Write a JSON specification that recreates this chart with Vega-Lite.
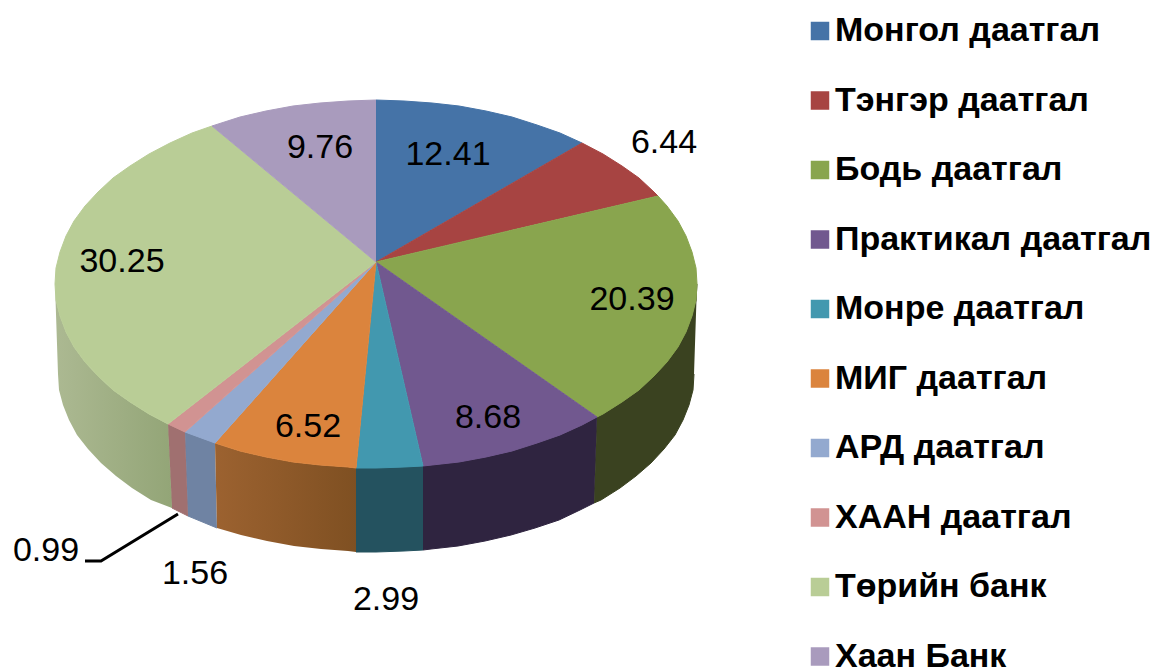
{"$schema":"https://vega.github.io/schema/vega-lite/v6.json","width":1158,"height":671,"padding":0,"autosize":{"type":"none"},"background":"white","view":{"stroke":null},
"datasets":{
"tops":[
{"slice":"Монгол даатгал","step":0,"x":0,"y":22},{"slice":"Монгол даатгал","step":1,"x":0,"y":184},{"slice":"Монгол даатгал","step":2,"x":28,"y":183},{"slice":"Монгол даатгал","step":3,"x":56,"y":181},{"slice":"Монгол даатгал","step":4,"x":83,"y":178},{"slice":"Монгол даатгал","step":5,"x":110,"y":173},{"slice":"Монгол даатгал","step":6,"x":136,"y":167},{"slice":"Монгол даатгал","step":7,"x":161,"y":159},{"slice":"Монгол даатгал","step":8,"x":184,"y":151},{"slice":"Монгол даатгал","step":9,"x":206,"y":141},
{"slice":"Тэнгэр даатгал","step":0,"x":0,"y":22},{"slice":"Тэнгэр даатгал","step":1,"x":206,"y":141},{"slice":"Тэнгэр даатгал","step":2,"x":227,"y":130},{"slice":"Тэнгэр даатгал","step":3,"x":246,"y":118},{"slice":"Тэнгэр даатгал","step":4,"x":263,"y":106},{"slice":"Тэнгэр даатгал","step":5,"x":278,"y":92},{"slice":"Тэнгэр даатгал","step":6,"x":282,"y":88},
{"slice":"Бодь даатгал","step":0,"x":0,"y":22},{"slice":"Бодь даатгал","step":1,"x":282,"y":88},{"slice":"Бодь даатгал","step":2,"x":291,"y":78},{"slice":"Бодь даатгал","step":3,"x":302,"y":63},{"slice":"Бодь даатгал","step":4,"x":310,"y":48},{"slice":"Бодь даатгал","step":5,"x":316,"y":32},{"slice":"Бодь даатгал","step":6,"x":320,"y":16},{"slice":"Бодь даатгал","step":7,"x":321,"y":0},{"slice":"Бодь даатгал","step":8,"x":320,"y":-16},{"slice":"Бодь даатгал","step":9,"x":316,"y":-32},{"slice":"Бодь даатгал","step":10,"x":310,"y":-48},{"slice":"Бодь даатгал","step":11,"x":302,"y":-63},{"slice":"Бодь даатгал","step":12,"x":291,"y":-78},{"slice":"Бодь даатгал","step":13,"x":278,"y":-92},{"slice":"Бодь даатгал","step":14,"x":263,"y":-106},{"slice":"Бодь даатгал","step":15,"x":246,"y":-118},{"slice":"Бодь даатгал","step":16,"x":227,"y":-130},{"slice":"Бодь даатгал","step":17,"x":221,"y":-133},
{"slice":"Практикал даатгал","step":0,"x":0,"y":22},{"slice":"Практикал даатгал","step":1,"x":221,"y":-133},{"slice":"Практикал даатгал","step":2,"x":206,"y":-141},{"slice":"Практикал даатгал","step":3,"x":184,"y":-151},{"slice":"Практикал даатгал","step":4,"x":161,"y":-159},{"slice":"Практикал даатгал","step":5,"x":136,"y":-167},{"slice":"Практикал даатгал","step":6,"x":110,"y":-173},{"slice":"Практикал даатгал","step":7,"x":83,"y":-178},{"slice":"Практикал даатгал","step":8,"x":56,"y":-181},{"slice":"Практикал даатгал","step":9,"x":47,"y":-182},
{"slice":"Монре даатгал","step":0,"x":0,"y":22},{"slice":"Монре даатгал","step":1,"x":47,"y":-182},{"slice":"Монре даатгал","step":2,"x":28,"y":-183},{"slice":"Монре даатгал","step":3,"x":0,"y":-184},{"slice":"Монре даатгал","step":4,"x":-20,"y":-184},
{"slice":"МИГ даатгал","step":0,"x":0,"y":22},{"slice":"МИГ даатгал","step":1,"x":-20,"y":-184},{"slice":"МИГ даатгал","step":2,"x":-28,"y":-183},{"slice":"МИГ даатгал","step":3,"x":-56,"y":-181},{"slice":"МИГ даатгал","step":4,"x":-83,"y":-178},{"slice":"МИГ даатгал","step":5,"x":-110,"y":-173},{"slice":"МИГ даатгал","step":6,"x":-136,"y":-167},{"slice":"МИГ даатгал","step":7,"x":-161,"y":-159},
{"slice":"АРД даатгал","step":0,"x":0,"y":22},{"slice":"АРД даатгал","step":1,"x":-161,"y":-159},{"slice":"АРД даатгал","step":2,"x":-191,"y":-148},
{"slice":"ХААН даатгал","step":0,"x":0,"y":22},{"slice":"ХААН даатгал","step":1,"x":-191,"y":-148},{"slice":"ХААН даатгал","step":2,"x":-208,"y":-140},
{"slice":"Төрийн банк","step":0,"x":0,"y":22},{"slice":"Төрийн банк","step":1,"x":-208,"y":-140},{"slice":"Төрийн банк","step":2,"x":-227,"y":-130},{"slice":"Төрийн банк","step":3,"x":-246,"y":-118},{"slice":"Төрийн банк","step":4,"x":-263,"y":-106},{"slice":"Төрийн банк","step":5,"x":-278,"y":-92},{"slice":"Төрийн банк","step":6,"x":-291,"y":-78},{"slice":"Төрийн банк","step":7,"x":-302,"y":-63},{"slice":"Төрийн банк","step":8,"x":-310,"y":-48},{"slice":"Төрийн банк","step":9,"x":-316,"y":-32},{"slice":"Төрийн банк","step":10,"x":-320,"y":-16},{"slice":"Төрийн банк","step":11,"x":-321,"y":0},{"slice":"Төрийн банк","step":12,"x":-320,"y":16},{"slice":"Төрийн банк","step":13,"x":-316,"y":32},{"slice":"Төрийн банк","step":14,"x":-310,"y":48},{"slice":"Төрийн банк","step":15,"x":-302,"y":63},{"slice":"Төрийн банк","step":16,"x":-291,"y":78},{"slice":"Төрийн банк","step":17,"x":-278,"y":92},{"slice":"Төрийн банк","step":18,"x":-263,"y":106},{"slice":"Төрийн банк","step":19,"x":-246,"y":118},{"slice":"Төрийн банк","step":20,"x":-227,"y":130},{"slice":"Төрийн банк","step":21,"x":-206,"y":141},{"slice":"Төрийн банк","step":22,"x":-184,"y":151},{"slice":"Төрийн банк","step":23,"x":-164,"y":158},
{"slice":"Хаан Банк","step":0,"x":0,"y":22},{"slice":"Хаан Банк","step":1,"x":-164,"y":158},{"slice":"Хаан Банк","step":2,"x":-136,"y":167},{"slice":"Хаан Банк","step":3,"x":-110,"y":173},{"slice":"Хаан Банк","step":4,"x":-83,"y":178},{"slice":"Хаан Банк","step":5,"x":-56,"y":181},{"slice":"Хаан Банк","step":6,"x":-28,"y":183},{"slice":"Хаан Банк","step":7,"x":0,"y":184}
],
"sides":[
{"slice":"Бодь даатгал","step":0,"x":321,"y":0},{"slice":"Бодь даатгал","step":1,"x":320,"y":-16},{"slice":"Бодь даатгал","step":2,"x":316,"y":-32},{"slice":"Бодь даатгал","step":3,"x":310,"y":-48},{"slice":"Бодь даатгал","step":4,"x":302,"y":-63},{"slice":"Бодь даатгал","step":5,"x":291,"y":-78},{"slice":"Бодь даатгал","step":6,"x":278,"y":-92},{"slice":"Бодь даатгал","step":7,"x":263,"y":-106},{"slice":"Бодь даатгал","step":8,"x":246,"y":-118},{"slice":"Бодь даатгал","step":9,"x":227,"y":-130},{"slice":"Бодь даатгал","step":10,"x":221,"y":-133},{"slice":"Бодь даатгал","step":11,"x":218,"y":-219},{"slice":"Бодь даатгал","step":12,"x":225,"y":-216},{"slice":"Бодь даатгал","step":13,"x":244,"y":-204},{"slice":"Бодь даатгал","step":14,"x":260,"y":-192},{"slice":"Бодь даатгал","step":15,"x":275,"y":-179},{"slice":"Бодь даатгал","step":16,"x":288,"y":-165},{"slice":"Бодь даатгал","step":17,"x":299,"y":-151},{"slice":"Бодь даатгал","step":18,"x":307,"y":-136},{"slice":"Бодь даатгал","step":19,"x":313,"y":-121},{"slice":"Бодь даатгал","step":20,"x":317,"y":-106},{"slice":"Бодь даатгал","step":21,"x":318,"y":-90},
{"slice":"Практикал даатгал","step":0,"x":221,"y":-133},{"slice":"Практикал даатгал","step":1,"x":206,"y":-141},{"slice":"Практикал даатгал","step":2,"x":184,"y":-151},{"slice":"Практикал даатгал","step":3,"x":161,"y":-159},{"slice":"Практикал даатгал","step":4,"x":136,"y":-167},{"slice":"Практикал даатгал","step":5,"x":110,"y":-173},{"slice":"Практикал даатгал","step":6,"x":83,"y":-178},{"slice":"Практикал даатгал","step":7,"x":56,"y":-181},{"slice":"Практикал даатгал","step":8,"x":47,"y":-182},{"slice":"Практикал даатгал","step":9,"x":47,"y":-266},{"slice":"Практикал даатгал","step":10,"x":55,"y":-265},{"slice":"Практикал даатгал","step":11,"x":82,"y":-262},{"slice":"Практикал даатгал","step":12,"x":109,"y":-257},{"slice":"Практикал даатгал","step":13,"x":135,"y":-251},{"slice":"Практикал даатгал","step":14,"x":159,"y":-244},{"slice":"Практикал даатгал","step":15,"x":183,"y":-236},{"slice":"Практикал даатгал","step":16,"x":204,"y":-226},{"slice":"Практикал даатгал","step":17,"x":218,"y":-219},
{"slice":"Монре даатгал","step":0,"x":47,"y":-182},{"slice":"Монре даатгал","step":1,"x":28,"y":-183},{"slice":"Монре даатгал","step":2,"x":0,"y":-184},{"slice":"Монре даатгал","step":3,"x":-20,"y":-184},{"slice":"Монре даатгал","step":4,"x":-20,"y":-268},{"slice":"Монре даатгал","step":5,"x":0,"y":-268},{"slice":"Монре даатгал","step":6,"x":28,"y":-267},{"slice":"Монре даатгал","step":7,"x":47,"y":-266},
{"slice":"МИГ даатгал","step":0,"x":-20,"y":-184},{"slice":"МИГ даатгал","step":1,"x":-28,"y":-183},{"slice":"МИГ даатгал","step":2,"x":-56,"y":-181},{"slice":"МИГ даатгал","step":3,"x":-83,"y":-178},{"slice":"МИГ даатгал","step":4,"x":-110,"y":-173},{"slice":"МИГ даатгал","step":5,"x":-136,"y":-167},{"slice":"МИГ даатгал","step":6,"x":-161,"y":-159},{"slice":"МИГ даатгал","step":7,"x":-159,"y":-244},{"slice":"МИГ даатгал","step":8,"x":-135,"y":-251},{"slice":"МИГ даатгал","step":9,"x":-109,"y":-257},{"slice":"МИГ даатгал","step":10,"x":-82,"y":-262},{"slice":"МИГ даатгал","step":11,"x":-55,"y":-265},{"slice":"МИГ даатгал","step":12,"x":-28,"y":-267},{"slice":"МИГ даатгал","step":13,"x":-20,"y":-268},
{"slice":"АРД даатгал","step":0,"x":-161,"y":-159},{"slice":"АРД даатгал","step":1,"x":-191,"y":-148},{"slice":"АРД даатгал","step":2,"x":-188,"y":-232},{"slice":"АРД даатгал","step":3,"x":-159,"y":-244},
{"slice":"ХААН даатгал","step":0,"x":-191,"y":-148},{"slice":"ХААН даатгал","step":1,"x":-208,"y":-140},{"slice":"ХААН даатгал","step":2,"x":-204,"y":-224},{"slice":"ХААН даатгал","step":3,"x":-188,"y":-232},
{"slice":"Төрийн банк","step":0,"x":-208,"y":-140},{"slice":"Төрийн банк","step":1,"x":-227,"y":-130},{"slice":"Төрийн банк","step":2,"x":-246,"y":-118},{"slice":"Төрийн банк","step":3,"x":-263,"y":-106},{"slice":"Төрийн банк","step":4,"x":-278,"y":-92},{"slice":"Төрийн банк","step":5,"x":-291,"y":-78},{"slice":"Төрийн банк","step":6,"x":-302,"y":-63},{"slice":"Төрийн банк","step":7,"x":-310,"y":-48},{"slice":"Төрийн банк","step":8,"x":-316,"y":-32},{"slice":"Төрийн банк","step":9,"x":-320,"y":-16},{"slice":"Төрийн банк","step":10,"x":-321,"y":0},{"slice":"Төрийн банк","step":11,"x":-318,"y":-90},{"slice":"Төрийн банк","step":12,"x":-317,"y":-106},{"slice":"Төрийн банк","step":13,"x":-313,"y":-121},{"slice":"Төрийн банк","step":14,"x":-307,"y":-136},{"slice":"Төрийн банк","step":15,"x":-299,"y":-151},{"slice":"Төрийн банк","step":16,"x":-288,"y":-165},{"slice":"Төрийн банк","step":17,"x":-275,"y":-179},{"slice":"Төрийн банк","step":18,"x":-260,"y":-192},{"slice":"Төрийн банк","step":19,"x":-244,"y":-204},{"slice":"Төрийн банк","step":20,"x":-225,"y":-216},{"slice":"Төрийн банк","step":21,"x":-204,"y":-224}
],
"labels":[
{"slice":"Монгол даатгал","value":12.41,"x":72,"y":129},{"slice":"Тэнгэр даатгал","value":6.44,"x":288,"y":141},{"slice":"Бодь даатгал","value":20.39,"x":256,"y":-16},{"slice":"Практикал даатгал","value":8.68,"x":112,"y":-134},{"slice":"Монре даатгал","value":2.99,"x":10,"y":-316},{"slice":"МИГ даатгал","value":6.52,"x":-68,"y":-143},{"slice":"АРД даатгал","value":1.56,"x":-181,"y":-290},{"slice":"ХААН даатгал","value":0.99,"x":-330,"y":-267},{"slice":"Төрийн банк","value":30.25,"x":-254,"y":22},{"slice":"Хаан Банк","value":9.76,"x":-56,"y":136}
],
"leader":[{"step":0,"x":-291,"y":-277},{"step":1,"x":-275,"y":-277},{"step":2,"x":-198,"y":-230}]
},
"encoding":{
"x":{"field":"x","type":"quantitative","axis":null,"scale":{"domain":[-376,782],"nice":false,"zero":false}},
"y":{"field":"y","type":"quantitative","axis":null,"scale":{"domain":[-387,284],"nice":false,"zero":false}}
},
"layer":[
{"data":{"name":"sides"},"transform":[{"filter":"datum.slice!='МИГ даатгал'&&datum.slice!='Төрийн банк'"}],
"mark":{"type":"line","filled":true,"strokeWidth":1},
"encoding":{"order":{"field":"step","type":"quantitative"},
"fill":{"field":"slice","type":"nominal","legend":null,"scale":{"domain":["Бодь даатгал","Практикал даатгал","Монре даатгал","АРД даатгал","ХААН даатгал"],"range":["#3a4220","#2f2440","#24525f","#6f83a3","#a07070"]}},
"stroke":{"field":"slice","type":"nominal","legend":null,"scale":{"domain":["Бодь даатгал","Практикал даатгал","Монре даатгал","АРД даатгал","ХААН даатгал"],"range":["#3a4220","#2f2440","#24525f","#6f83a3","#a07070"]}}}},
{"data":{"name":"sides"},"transform":[{"filter":"datum.slice=='МИГ даатгал'"}],
"mark":{"type":"line","filled":true,"strokeWidth":0,"fill":{"gradient":"linear","x1":0,"x2":1,"y1":0,"y2":0,"stops":[{"offset":0,"color":"#9c6230"},{"offset":1,"color":"#7f5022"}]}},
"encoding":{"order":{"field":"step","type":"quantitative"}}},
{"data":{"name":"sides"},"transform":[{"filter":"datum.slice=='Төрийн банк'"}],
"mark":{"type":"line","filled":true,"strokeWidth":0,"fill":{"gradient":"linear","x1":0,"x2":1,"y1":0,"y2":0,"stops":[{"offset":0,"color":"#acb992"},{"offset":1,"color":"#93a577"}]}},
"encoding":{"order":{"field":"step","type":"quantitative"}}},
{"data":{"name":"tops"},
"mark":{"type":"line","filled":true,"strokeWidth":1},
"encoding":{"order":{"field":"step","type":"quantitative"},
"fill":{"field":"slice","type":"nominal","scale":{"domain":["Монгол даатгал","Тэнгэр даатгал","Бодь даатгал","Практикал даатгал","Монре даатгал","МИГ даатгал","АРД даатгал","ХААН даатгал","Төрийн банк","Хаан Банк"],"range":["#4573a7","#a74442","#89a54e","#71588f","#4298af","#db843d","#93a9cf","#d19392","#b9cd96","#a99bbd"]},
"legend":{"title":null,"orient":"none","legendX":803,"legendY":14,"symbolType":"square","symbolSize":342,"symbolStrokeWidth":0,"labelFont":"Liberation Sans","labelFontWeight":"bold","labelFontSize":34,"labelColor":"#000000","labelOffset":-2,"rowPadding":35.5,"labelLimit":400,"padding":0}},
"stroke":{"field":"slice","type":"nominal","legend":null,"scale":{"domain":["Монгол даатгал","Тэнгэр даатгал","Бодь даатгал","Практикал даатгал","Монре даатгал","МИГ даатгал","АРД даатгал","ХААН даатгал","Төрийн банк","Хаан Банк"],"range":["#4573a7","#a74442","#89a54e","#71588f","#4298af","#db843d","#93a9cf","#d19392","#b9cd96","#a99bbd"]}}}},
{"data":{"name":"leader"},"mark":{"type":"line","color":"#000000","strokeWidth":3},"encoding":{"order":{"field":"step","type":"quantitative"}}},
{"data":{"name":"labels"},"mark":{"type":"text","font":"Liberation Sans","fontSize":34,"color":"#000000","align":"center","baseline":"middle"},"encoding":{"text":{"field":"value","type":"quantitative","format":".2f"}}}
],
"resolve":{"scale":{"fill":"independent","stroke":"independent"}}
}
